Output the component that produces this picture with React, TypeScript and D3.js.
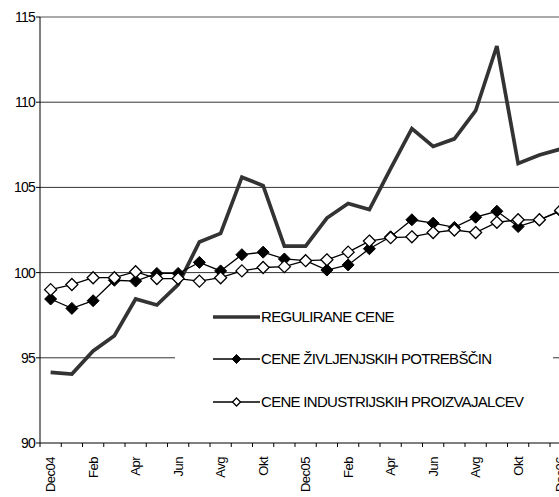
import React from 'react';
import * as d3 from 'd3';

// month labels (Slovenian), only every second one is printed on the axis
const months = [
  'Dec04', 'Jan', 'Feb', 'Mar', 'Apr', 'Maj', 'Jun', 'Jul', 'Avg', 'Sep', 'Okt', 'Nov',
  'Dec05', 'Jan', 'Feb', 'Mar', 'Apr', 'Maj', 'Jun', 'Jul', 'Avg', 'Sep', 'Okt', 'Nov', 'Dec06',
];

const regulirane = [
  94.15, 94.05, 95.4, 96.3, 98.45, 98.1, 99.3, 101.8, 102.3, 105.6, 105.1, 101.55,
  101.55, 103.2, 104.05, 103.7, 106.1, 108.45, 107.4, 107.85, 109.5, 113.3, 106.4, 106.9, 107.25,
];

const zivljenjske = [
  98.45, 97.9, 98.35, 99.55, 99.5, 99.95, 99.95, 100.6, 100.1, 101.05, 101.2, 100.8,
  100.7, 100.15, 100.45, 101.4, 102.1, 103.1, 102.9, 102.65, 103.25, 103.6, 102.7, 103.1, 103.6,
];

const industrijske = [
  99.0, 99.3, 99.7, 99.7, 100.05, 99.65, 99.65, 99.5, 99.7, 100.1, 100.3, 100.35,
  100.7, 100.75, 101.2, 101.85, 102.05, 102.1, 102.35, 102.5, 102.35, 102.95, 103.1, 103.1, 103.65,
];

const yTicks = [90, 95, 100, 105, 110, 115];

const seriesNames = [
  'REGULIRANE CENE',
  'CENE ŽIVLJENJSKIH POTREBŠČIN',
  'CENE INDUSTRIJSKIH PROIZVAJALCEV',
];

const W = 559;
const H = 497;
const FONT = 'Arial, "Liberation Sans", sans-serif';

const diamond = (cx: number, cy: number, r: number) =>
  `M${cx},${cy - r}L${cx + r},${cy}L${cx},${cy + r}L${cx - r},${cy}Z`;

const App: React.FC = () => {
  const idx = months.map((_, i) => i);
  const x = d3.scaleBand<number>().domain(idx).range([40, 40 + months.length * 21.25]);
  const y = d3.scaleLinear().domain([90, 115]).range([443, 17]);
  const cx = (i: number) => (x(i) as number) + x.bandwidth() / 2;

  const line = d3.line<number>().x((_, i) => cx(i)).y((d) => y(d));

  const legendY = [317, 359, 402];

  return (
    <div style={{ position: 'absolute', left: 0, top: 0 }}>
      <svg width={W} height={H} style={{ display: 'block', background: '#fff' }} fontFamily={FONT}>
        {/* grid lines */}
        {yTicks.filter((t) => t > 90).map((t) => (
          <line key={t} x1={40} x2={W} y1={y(t)} y2={y(t)}
            stroke={t === 115 ? '#8c8c8c' : '#333'} strokeWidth={t === 115 ? 1.5 : 1} />
        ))}

        {/* legend box hides part of the grid */}
        <rect x={175} y={290} width={378} height={135} fill="#fff" />

        {/* axes */}
        <line x1={40} x2={40} y1={y(115)} y2={y(90)} stroke="#000" strokeWidth={1} />
        <line x1={40} x2={W} y1={y(90)} y2={y(90)} stroke="#000" strokeWidth={1} />
        {yTicks.map((t) => (
          <g key={t}>
            <line x1={36} x2={40} y1={y(t)} y2={y(t)} stroke="#000" />
            <text x={35} y={y(t)} dy="0.35em" textAnchor="end" fontSize={14} letterSpacing={-0.8} fill="#000">
              {t}
            </text>
          </g>
        ))}
        {d3.range(months.length + 1).map((k) => {
          const tx = 40 + k * x.step();
          return <line key={k} x1={tx} x2={tx} y1={y(90)} y2={y(90) + 4} stroke="#000" />;
        })}
        {months.map((m, i) =>
          i % 2 === 0 ? (
            <text key={i} transform={`translate(${cx(i)},457) rotate(-90)`} dy="0.35em"
              textAnchor="end" fontSize={13} letterSpacing={-0.5} fill="#000">
              {m}
            </text>
          ) : null
        )}

        {/* series */}
        <path d={line(regulirane) || ''} fill="none" stroke="#333" strokeWidth={3.7} strokeLinejoin="miter" />
        <path d={line(zivljenjske) || ''} fill="none" stroke="#000" strokeWidth={1.3} />
        {zivljenjske.map((v, i) => (
          <path key={i} d={diamond(cx(i), y(v), 6)} fill="#000" stroke="#000" strokeWidth={1} />
        ))}
        <path d={line(industrijske) || ''} fill="none" stroke="#000" strokeWidth={1.3} />
        {industrijske.map((v, i) => (
          <path key={i} d={diamond(cx(i), y(v), 6)} fill="#fff" stroke="#000" strokeWidth={1.3} />
        ))}

        {/* legend */}
        {seriesNames.map((name, k) => (
          <g key={name}>
            <line x1={213} x2={260} y1={legendY[k]} y2={legendY[k]}
              stroke={k === 0 ? '#333' : '#000'} strokeWidth={k === 0 ? 3.7 : 1.3} />
            {k === 1 && <path d={diamond(236.5, legendY[k], 4.5)} fill="#000" stroke="#000" />}
            {k === 2 && <path d={diamond(236.5, legendY[k], 4)} fill="#fff" stroke="#000" strokeWidth={1.3} />}
            <text x={261} y={legendY[k]} dy="0.36em" fontSize={15} letterSpacing={-0.7} fill="#000">
              {name}
            </text>
          </g>
        ))}
      </svg>
    </div>
  );
};

export default App;
